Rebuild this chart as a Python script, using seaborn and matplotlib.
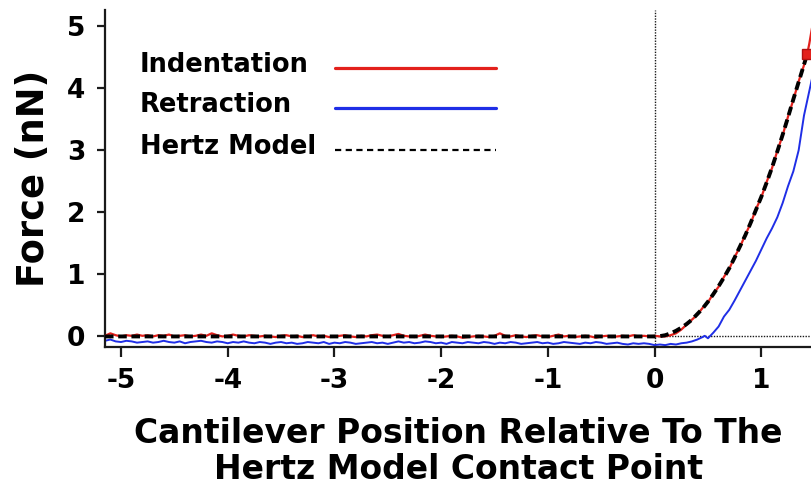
import numpy as np
import pandas as pd
import matplotlib
matplotlib.use("Agg")
import matplotlib.pyplot as plt
from matplotlib.lines import Line2D
import seaborn as sns

# ---- data (nN vs. position, contact point at 0) ----
# flat, non-contact part of the curves: -5.15 ... -0.05 in 0.05 steps
baseline_pos = np.linspace(-5.15, -0.05, 103)

indent_baseline = [
    0.01, 0.05, 0.02, 0.00, 0.02, 0.01, 0.03, 0.01, 0.02, 0.00,
    0.02, 0.01, 0.03, 0.00, 0.01, 0.02, 0.00, 0.01, 0.03, 0.01,
    0.05, 0.02, 0.00, 0.01, 0.03, 0.01, 0.00, 0.02, 0.01, 0.00,
    0.01, 0.00, -0.01, 0.01, 0.02, 0.00, 0.01, -0.01, 0.00, 0.02,
    0.00, 0.01, -0.01, 0.00, 0.01, 0.02, 0.00, -0.01, 0.01, 0.00,
    0.02, 0.03, 0.01, 0.00, 0.02, 0.04, 0.01, 0.00, -0.01, 0.01,
    0.03, 0.01, 0.00, -0.01, 0.00, 0.01, 0.00, -0.02, -0.01, 0.00,
    0.01, 0.00, -0.01, 0.01, 0.05, 0.01, 0.00, 0.02, 0.00, -0.01,
    0.01, 0.02, 0.00, -0.01, 0.01, 0.03, 0.00, 0.01, -0.01, 0.00,
    0.01, 0.00, -0.02, 0.00, 0.01, -0.01, 0.00, 0.01, 0.00, 0.02,
    0.00, 0.01, 0.00,
]

retract_baseline = [
    -0.07, -0.05, -0.08, -0.09, -0.07, -0.08, -0.10, -0.09, -0.08, -0.10,
    -0.09, -0.07, -0.09, -0.10, -0.08, -0.11, -0.09, -0.08, -0.07, -0.09,
    -0.10, -0.08, -0.09, -0.11, -0.09, -0.10, -0.08, -0.10, -0.11, -0.09,
    -0.10, -0.12, -0.10, -0.09, -0.11, -0.10, -0.12, -0.11, -0.09, -0.10,
    -0.11, -0.09, -0.12, -0.10, -0.11, -0.09, -0.10, -0.12, -0.11, -0.10,
    -0.09, -0.11, -0.10, -0.12, -0.10, -0.08, -0.10, -0.09, -0.11, -0.10,
    -0.08, -0.09, -0.11, -0.10, -0.12, -0.09, -0.10, -0.11, -0.09, -0.10,
    -0.11, -0.09, -0.10, -0.12, -0.10, -0.11, -0.09, -0.10, -0.12, -0.11,
    -0.10, -0.09, -0.11, -0.10, -0.12, -0.11, -0.09, -0.10, -0.11, -0.12,
    -0.10, -0.11, -0.09, -0.10, -0.12, -0.11, -0.10, -0.12, -0.13, -0.11,
    -0.12, -0.11, -0.12,
]

# contact part of the indentation curve
indent_contact_pos = [0.00, 0.05, 0.10, 0.15, 0.20, 0.25, 0.30, 0.35, 0.40, 0.45,
                      0.50, 0.55, 0.60, 0.65, 0.70, 0.75, 0.80, 0.85, 0.90, 0.95,
                      1.00, 1.05, 1.10, 1.15, 1.20, 1.25, 1.30, 1.35, 1.40, 1.43,
                      1.45, 1.48]
indent_contact_force = [0.01, 0.00, 0.00, 0.02, 0.05, 0.11, 0.19, 0.27, 0.35, 0.46,
                        0.55, 0.69, 0.80, 0.96, 1.09, 1.28, 1.44, 1.64, 1.82, 2.05,
                        2.24, 2.49, 2.71, 2.99, 3.24, 3.54, 3.81, 4.11, 4.37, 4.55,
                        4.72, 5.02]

# contact part of the retraction curve
retract_contact_pos = [0.00, 0.05, 0.10, 0.15, 0.20, 0.25, 0.30, 0.35, 0.40, 0.45,
                       0.47, 0.50, 0.55, 0.60, 0.65, 0.70, 0.75, 0.80, 0.85, 0.90,
                       0.95, 1.00, 1.05, 1.10, 1.15, 1.20, 1.25, 1.30, 1.35, 1.40,
                       1.45, 1.50]
retract_contact_force = [-0.14, -0.13, -0.14, -0.12, -0.13, -0.11, -0.10, -0.08, -0.05, -0.01,
                         0.01, -0.03, 0.06, 0.16, 0.32, 0.43, 0.58, 0.74, 0.90, 1.06,
                         1.22, 1.40, 1.58, 1.74, 1.92, 2.15, 2.42, 2.66, 3.00, 3.56,
                         3.96, 4.35]

# Hertz model fit
hertz_pos = [-5.15, 0.00, 0.05, 0.10, 0.15, 0.20, 0.25, 0.30, 0.35, 0.40, 0.45,
             0.50, 0.55, 0.60, 0.65, 0.70, 0.75, 0.80, 0.85, 0.90, 0.95,
             1.00, 1.05, 1.10, 1.15, 1.20, 1.25, 1.30, 1.35, 1.40, 1.43]
hertz_force = [0.00, 0.00, 0.005, 0.02, 0.05, 0.09, 0.14, 0.20, 0.27, 0.36, 0.45,
               0.56, 0.68, 0.81, 0.95, 1.10, 1.27, 1.45, 1.63, 1.83, 2.04,
               2.25, 2.48, 2.72, 2.98, 3.25, 3.53, 3.82, 4.10, 4.38, 4.55]

x_ticks = [-5, -4, -3, -2, -1, 0, 1]
y_ticks = [0, 1, 2, 3, 4, 5]
series_labels = ["Indentation", "Retraction", "Hertz Model"]

indent = pd.DataFrame({
    "pos": np.concatenate([baseline_pos, indent_contact_pos]),
    "force": np.concatenate([indent_baseline, indent_contact_force]),
})
retract = pd.DataFrame({
    "pos": np.concatenate([baseline_pos, retract_contact_pos]),
    "force": np.concatenate([retract_baseline, retract_contact_force]),
})
hertz = pd.DataFrame({"pos": hertz_pos, "force": hertz_force})

# ---- style ----
sns.set_theme(style="ticks")
plt.rcParams["font.family"] = ["DejaVu Sans"]
plt.rcParams["font.weight"] = "bold"

RED = "#e3211c"
BLUE = "#1f2ee6"
INK = "#1a1a1a"

fig = plt.figure(figsize=(8.12, 4.87), dpi=100)
ax = fig.add_axes([0.1293, 0.2875, 0.8707, 0.692])

# reference lines through the contact point
ax.axvline(0, color=INK, lw=1.0, ls=(0, (1, 1)), zorder=1)
ax.plot([0, 1.6], [0, 0], color=INK, lw=1.0, ls=(0, (1, 1)), zorder=1)

sns.lineplot(data=retract, x="pos", y="force", ax=ax, color=BLUE, lw=1.4,
             estimator=None, sort=False, zorder=2)
sns.lineplot(data=indent, x="pos", y="force", ax=ax, color=RED, lw=1.6,
             estimator=None, sort=False, zorder=3)
sns.lineplot(data=hertz, x="pos", y="force", ax=ax, color="black", lw=2.8,
             estimator=None, sort=False, zorder=4)
ax.lines[-1].set_linestyle((0, (2.2, 1.2)))

# end point of the fitted range
ax.plot(hertz_pos[-1], hertz_force[-1], marker="s", ms=7, mfc=RED, mec="#b01010",
        mew=1.0, zorder=5, clip_on=False)

ax.set_xlim(-5.15, 1.475)
ax.set_ylim(-0.17, 5.26)
ax.set_xticks(x_ticks)
ax.set_yticks(y_ticks)
ax.set_xticklabels([str(t) for t in x_ticks])
ax.set_yticklabels([str(t) for t in y_ticks])

for side in ["top", "right"]:
    ax.spines[side].set_visible(False)
for side in ["left", "bottom"]:
    ax.spines[side].set_linewidth(1.6)
    ax.spines[side].set_color(INK)

ax.tick_params(axis="x", direction="out", length=7, width=1.6, color=INK,
               labelsize=19, pad=8, labelcolor="black")
ax.tick_params(axis="y", direction="out", length=6, width=1.6, color=INK,
               labelsize=19, pad=8, labelcolor="black")
for lab in ax.get_xticklabels() + ax.get_yticklabels():
    lab.set_fontweight("bold")

ax.set_xlabel("Cantilever Position Relative To The\nHertz Model Contact Point",
              fontsize=23.8, fontweight="bold", linespacing=1.1, labelpad=17,
              color="black")
ax.set_ylabel("Force (nN)", fontsize=26.5, fontweight="bold", labelpad=11,
              color="black")

# legend: labels on the left, line keys on the right, labels left-aligned
W, H = 812.0, 487.0
key_styles = [
    dict(color=RED, lw=2.3, ls="-"),
    dict(color=BLUE, lw=2.3, ls="-"),
    dict(color="black", lw=1.6, ls=(0, (2.8, 2.0))),
]
text_baselines = [72.0, 112.0, 154.0]
key_rows = [68.3, 108.3, 150.0]
for label, style, tb, ky in zip(series_labels, key_styles, text_baselines, key_rows):
    fig.text(140 / W, 1 - tb / H, label, fontsize=18.5, fontweight="bold",
             ha="left", va="baseline", color="black")
    fig.add_artist(Line2D([335 / W, 496 / W], [1 - ky / H, 1 - ky / H],
                          transform=fig.transFigure, **style))

fig.savefig("out.png", dpi=100)
